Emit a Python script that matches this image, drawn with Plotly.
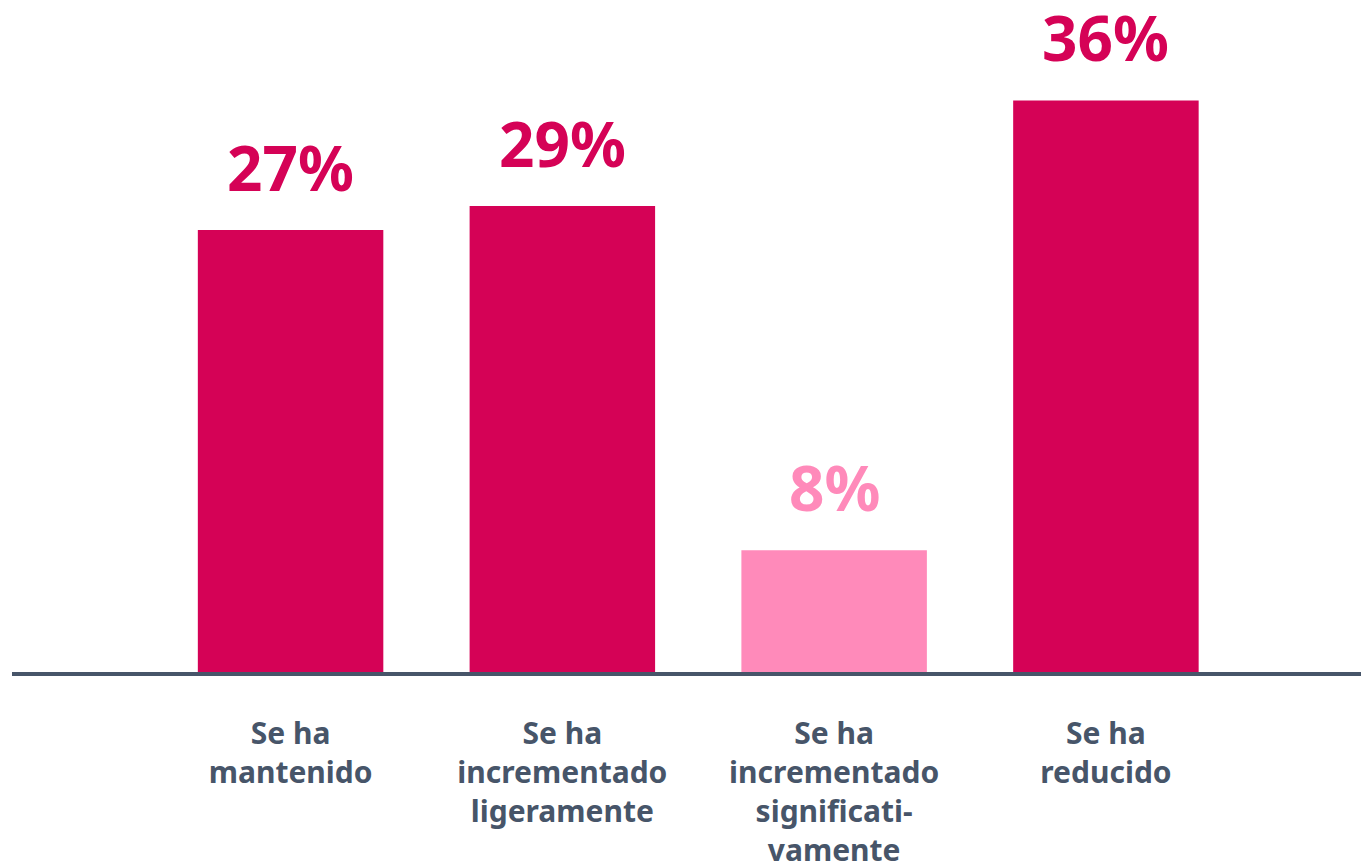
import plotly.graph_objects as go

CATEGORIES = [
    "Se ha<br>mantenido",
    "Se ha<br>incrementado<br>ligeramente",
    "Se ha<br>incrementado<br>significati-<br>vamente",
    "Se ha<br>reducido",
]
VALUES = [27.6, 29.1, 7.6, 35.7]
LABELS = ["27%", "29%", "8%", "36%"]

DARK_PINK = "#d50256"
LIGHT_PINK = "#ff8aba"
SLATE = "#475569"
BAR_COLORS = [DARK_PINK, DARK_PINK, LIGHT_PINK, DARK_PINK]
FONT = "Noto Sans"

fig = go.Figure()
fig.add_trace(go.Bar(
    x=CATEGORIES, y=VALUES,
    marker_color=BAR_COLORS, marker_line_width=0,
    width=0.6825,
    hoverinfo="skip",
))

for cat, val, label, color in zip(CATEGORIES, VALUES, LABELS, BAR_COLORS):
    fig.add_annotation(
        x=cat, y=val, xref="x", yref="y",
        text=f"<b>{label}</b>", showarrow=False,
        yanchor="bottom", yshift=19,
        font=dict(family=FONT, size=62, color=color),
    )

fig.update_layout(
    width=1361, height=862,
    plot_bgcolor="#ffffff", paper_bgcolor="#ffffff",
    margin=dict(l=4, r=0, t=8, b=187),
    showlegend=False,
    xaxis=dict(
        range=[-1.025, 3.968],
        showline=True, linecolor=SLATE, linewidth=4,
        showgrid=False, zeroline=False,
        ticks="outside", ticklen=32, tickcolor="rgba(0,0,0,0)",
        tickfont=dict(family=FONT, size=30, color=SLATE, weight="bold"),
        tickangle=0,
    ),
    yaxis=dict(
        range=[0, 40.97],
        visible=False, showgrid=False, zeroline=False,
    ),
)

fig.write_html("out.html")
